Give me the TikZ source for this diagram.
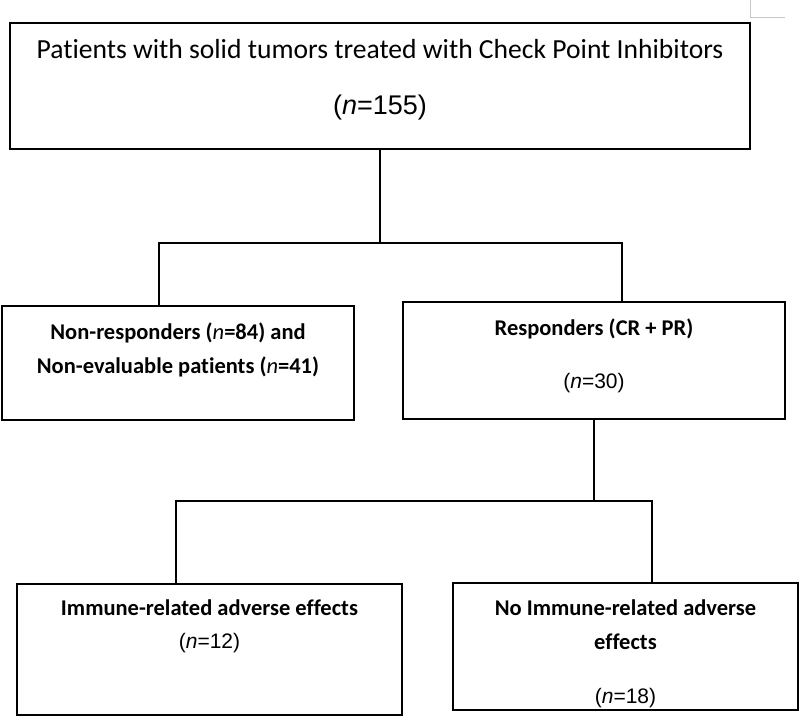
\documentclass[tikz,border=0pt]{standalone}
\usepackage{fontspec}
\setmainfont{Carlito}[Ligatures=NoCommon]
\newfontfamily\arialfont{Liberation Sans}
\usepackage{tikz}

% (n=..) in the Arial face of the lower boxes
\newcommand{\ncount}[1]{{\arialfont\mdseries\fontsize{21}{28}\selectfont(\textit{n}=#1)}}
% invisible depth to lift the text inside a box
\newcommand{\lift}[1]{\rule[-#1]{0pt}{#1}}

\begin{document}
\begin{tikzpicture}[
	x=1pt, y=-1pt,
	% Style for the boxes of the flow chart
	stage/.style={
		rectangle,
		draw=black,
		line width=1.8pt,
		inner sep=0pt,
		align=center,
		font=\bfseries\fontsize{22.5}{28}\selectfont
	},
	% Style for the connecting lines
	link/.style={
		draw=black,
		line width=1.8pt
	}
	]
	\useasboundingbox (0,0) rectangle (800,720);
	
	% --- BOXES ---
	
	% All patients
	\node[stage, minimum width=740pt, minimum height=126pt, font=\fontsize{27.6}{33}\selectfont] (cpi) at (380,86)
		{Patients with solid tumors treated with Check Point Inhibitors\\[23pt]{\arialfont\fontsize{27}{33}\selectfont(\textit{n}=155)}\lift{18pt}};
	
	% First split
	\node[stage, minimum width=352pt, minimum height=114pt] (nr) at (178,363)
		{Non-responders ({\mdseries\textit{n}}=84) and\\[6pt]Non-evaluable patients ({\mdseries\textit{n}}=41)\lift{30pt}};
	\node[stage, minimum width=382pt, minimum height=117pt] (resp) at (594,360.5)
		{Responders (CR + PR)\\[25pt]\ncount{30}\lift{14pt}};
	
	% Second split
	\node[stage, minimum width=385pt, minimum height=131pt] (irae) at (209.5,649.5)
		{Immune-related adverse effects\\[5pt]\ncount{12}\lift{50pt}};
	\node[stage, minimum width=345pt, minimum height=127pt] (noirae) at (625.5,646.5)
		{\rule{0pt}{30pt}No Immune-related adverse\\[6pt]effects\\[26pt]\ncount{18}};
	
	% --- LINES ---
	
	\draw[link] (cpi.south) -- ++(0,93) coordinate (fork1);
	\draw[link] ([xshift=-19pt]nr.north) |- (fork1) -| ([xshift=28pt]resp.north);
	
	\draw[link] (resp.south) -- ++(0,81) coordinate (fork2);
	\draw[link] ([xshift=-33.5pt]irae.north) |- (fork2) -| ([xshift=26.5pt]noirae.north);
	
	% page corner mark
	\draw[gray!45, line width=0.8pt] (750,0) -- (750,17) -- (785,17);
	
\end{tikzpicture}
\end{document}
